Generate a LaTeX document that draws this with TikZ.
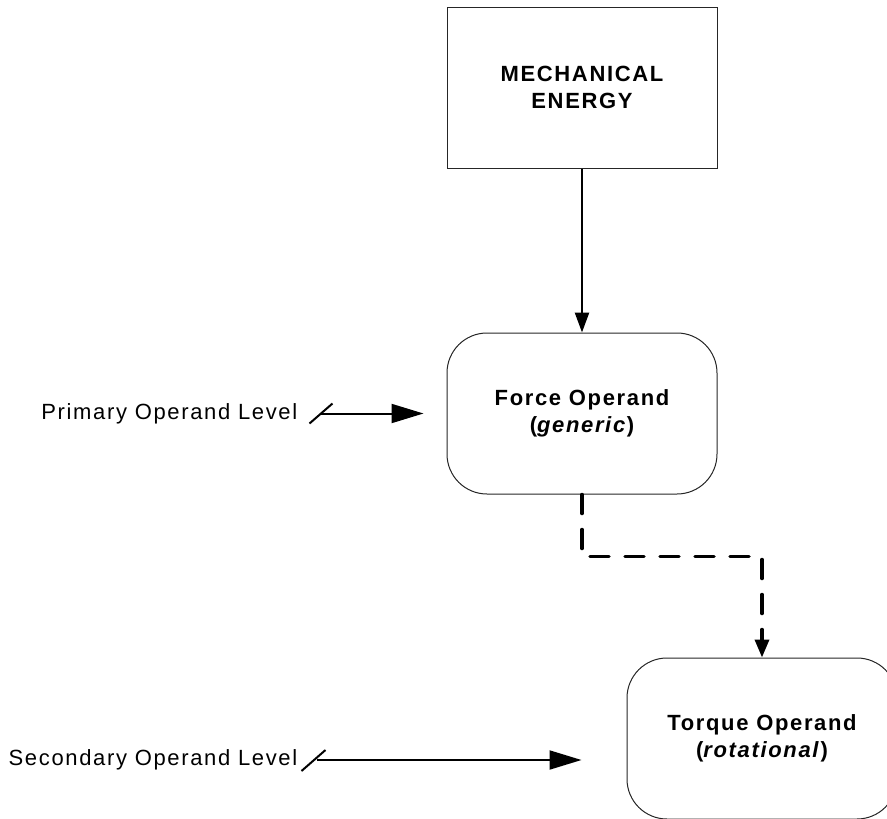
\documentclass[tikz,border=0pt]{standalone}
\usepackage{fontspec}
\setmainfont{Liberation Sans}[LetterSpace=7.5]
\usetikzlibrary{arrows.meta, positioning, calc}
\tikzset{
    energybox/.style={
        rectangle,
        draw=black!85,
        line width=1pt,
        minimum width=270pt,
        minimum height=161pt,
        align=center,
        font=\fontsize{22}{27}\selectfont\bfseries
    },
    operandbox/.style={
        energybox,
        rounded corners=40pt
    },
    levellabel/.style={
        inner sep=0pt,
        font=\fontsize{22}{26}\selectfont
    },
    flowarrow/.style={
        -{Triangle[length=20pt, width=14pt]},
        line width=2.5pt
    },
    levelarrow/.style={
        -{Triangle[length=32pt, width=19pt]},
        line width=2pt
    },
    dashflow/.style={
        -{Triangle[length=18pt, width=14pt]},
        line width=3.5pt,
        line cap=round,
        dash pattern=on 19pt off 16pt
    },
    tickmark/.style={
        line width=2pt
    }
}
\begin{document}
\begin{tikzpicture}[x=1pt, y=1pt]
    \useasboundingbox (0,0) rectangle (887,-819);
    \clip (0,0) rectangle (887,-819);

    % blocks
    \node[energybox] (energy) at (582,-87.5) {MECHANICAL\\ENERGY};
    \node[operandbox, below=164pt of energy] (force) {Force Operand\\(\textit{generic})};
    \node[operandbox, below=163pt of force, xshift=180pt] (torque) {Torque Operand\\(\textit{rotational})};

    % level labels
    \node[levellabel, left=149pt of force] (primlbl) {Primary Operand Level};
    \node[levellabel, left=329pt of torque, yshift=-21.5pt] (seclbl) {Secondary Operand Level};

    % connectors
    \draw[flowarrow] (energy) -- (force);
    \draw[dashflow] (force.south) -- ++(0,-62) -| (torque.north);

    \draw[levelarrow, shorten <=22pt, shorten >=23pt] (primlbl) -- (force);
    \draw[tickmark] ($(primlbl.east)+(12,-10)$) -- ++(23,20);

    \draw[levelarrow, shorten <=19pt, shorten >=45pt] (seclbl.east) -- (seclbl.east -| torque.west);
    \draw[tickmark] ($(seclbl.east)+(4,-11)$) -- ++(24,21);
\end{tikzpicture}
\end{document}
